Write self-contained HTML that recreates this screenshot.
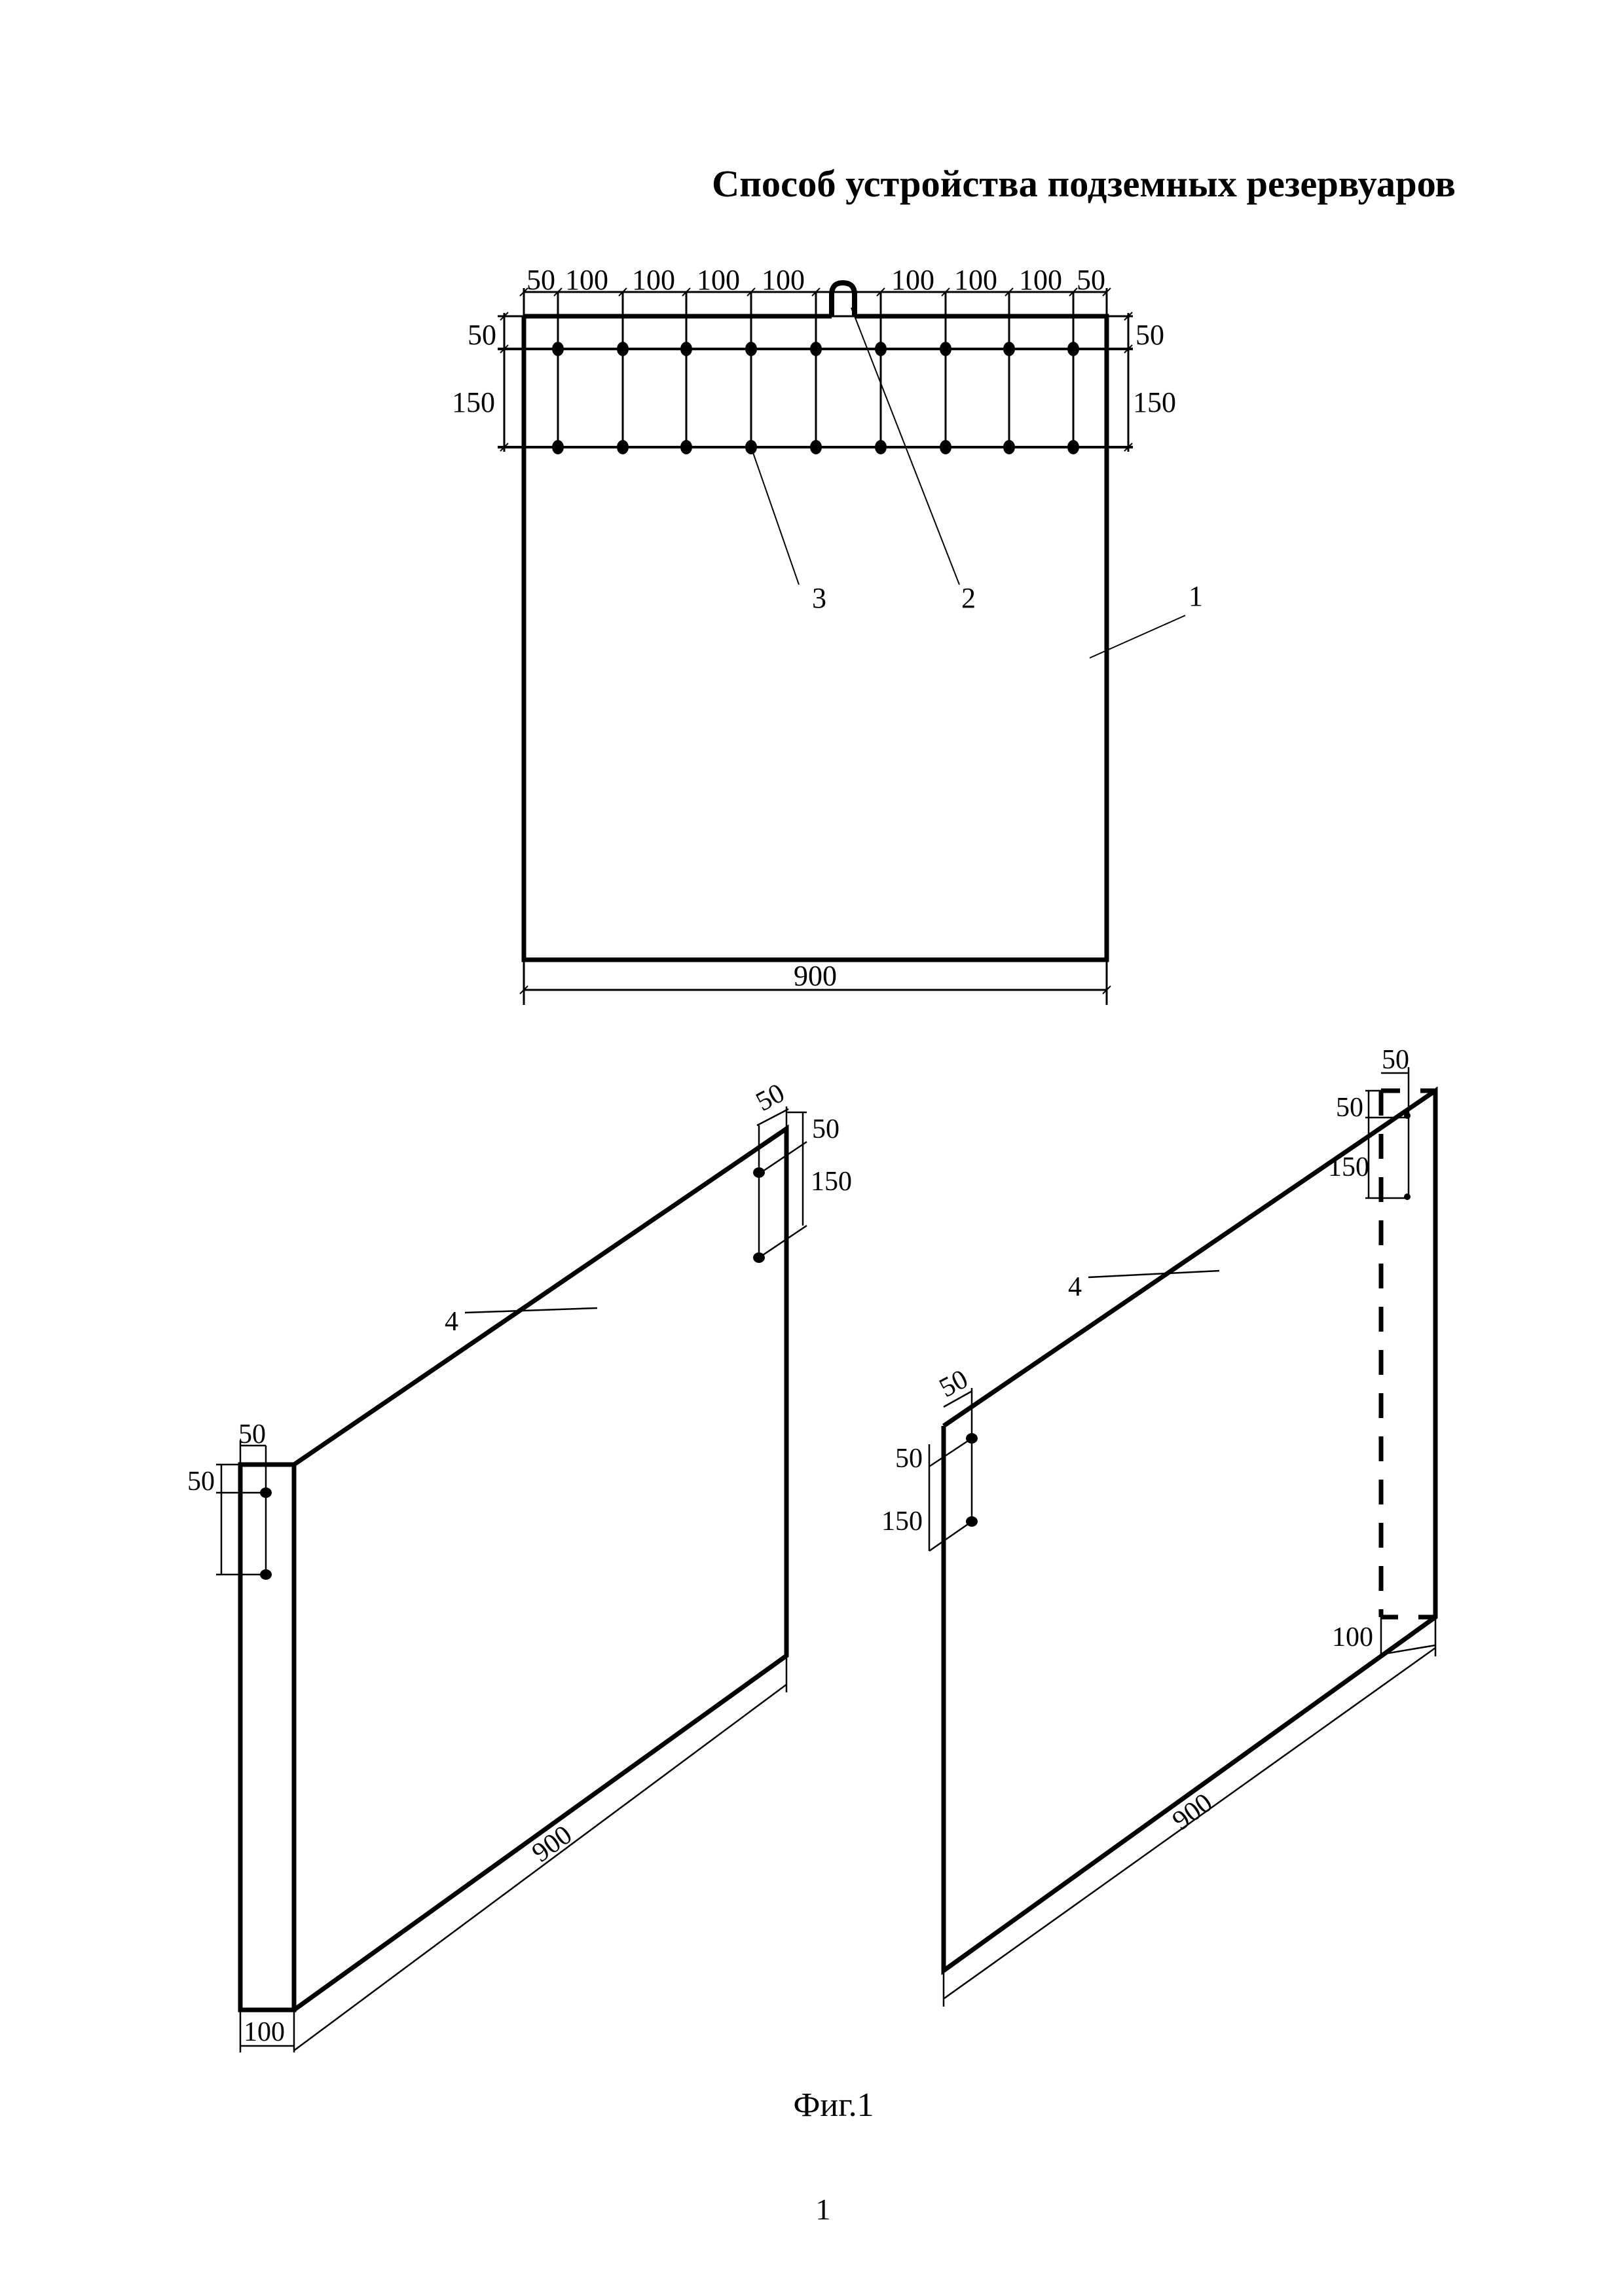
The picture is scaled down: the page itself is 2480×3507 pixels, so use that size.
<!DOCTYPE html>
<html><head><meta charset="utf-8"><style>html,body{margin:0;padding:0;background:#fff}svg{display:block}</style></head>
<body>
<svg width="2480" height="3507" viewBox="0 0 2480 3507" xmlns="http://www.w3.org/2000/svg" font-family="'Liberation Serif', serif" fill="none" stroke="#000">
<text x="1087" y="300" font-size="58" font-weight="bold" fill="#000" stroke="none" textLength="1136" lengthAdjust="spacingAndGlyphs">Способ устройства подземных резервуаров</text>

<!-- Top plate -->
<g stroke-width="7">
<path d="M800 483 V1466 H1690 V483 H1305 M1270 483 H800"/>
<path d="M1270 483 V450 Q1270 432 1287 432 Q1305 432 1305 450 V483" stroke-width="8"/>
</g>
<g stroke-width="3">
<line x1="800" y1="446" x2="1690" y2="446"/>
<line x1="760" y1="483" x2="1730" y2="483"/>
<line x1="760" y1="533" x2="1730" y2="533" stroke-width="4"/>
<line x1="760" y1="683" x2="1730" y2="683" stroke-width="4"/>
<line x1="770" y1="478" x2="770" y2="690"/>
<line x1="1723" y1="478" x2="1723" y2="690"/>
<line x1="800" y1="440" x2="800" y2="483"/>
<line x1="1690" y1="440" x2="1690" y2="483"/>
<line x1="852" y1="446" x2="852" y2="683"/>
<line x1="951" y1="446" x2="951" y2="683"/>
<line x1="1048" y1="446" x2="1048" y2="683"/>
<line x1="1147" y1="446" x2="1147" y2="683"/>
<line x1="1246" y1="446" x2="1246" y2="683"/>
<line x1="1345" y1="446" x2="1345" y2="683"/>
<line x1="1444" y1="446" x2="1444" y2="683"/>
<line x1="1541" y1="446" x2="1541" y2="683"/>
<line x1="1639" y1="446" x2="1639" y2="683"/>
<line x1="800" y1="1466" x2="800" y2="1535"/>
<line x1="1690" y1="1466" x2="1690" y2="1535"/>
<line x1="800" y1="1512" x2="1690" y2="1512"/>
<line x1="1147" y1="683" x2="1220" y2="893" stroke-width="2"/>
<line x1="1300" y1="470" x2="1465" y2="893" stroke-width="2"/>
<line x1="1664" y1="1005" x2="1810" y2="940" stroke-width="2"/>
</g>
<g stroke-width="2">
<path d="M794 452 l12 -12 M846 452 l12 -12 M945 452 l12 -12 M1042 452 l12 -12 M1141 452 l12 -12 M1240 452 l12 -12 M1339 452 l12 -12 M1438 452 l12 -12 M1535 452 l12 -12 M1633 452 l12 -12 M1684 452 l12 -12"/>
<path d="M764 489 l12 -12 M764 539 l12 -12 M764 689 l12 -12 M1717 489 l12 -12 M1717 539 l12 -12 M1717 689 l12 -12 M794 1518 l12 -12 M1684 1518 l12 -12"/>
</g>
<g fill="#000" stroke="none">
<ellipse cx="852" cy="533" rx="9" ry="11"/><ellipse cx="951" cy="533" rx="9" ry="11"/><ellipse cx="1048" cy="533" rx="9" ry="11"/><ellipse cx="1147" cy="533" rx="9" ry="11"/><ellipse cx="1246" cy="533" rx="9" ry="11"/><ellipse cx="1345" cy="533" rx="9" ry="11"/><ellipse cx="1444" cy="533" rx="9" ry="11"/><ellipse cx="1541" cy="533" rx="9" ry="11"/><ellipse cx="1639" cy="533" rx="9" ry="11"/>
<ellipse cx="852" cy="683" rx="9" ry="11"/><ellipse cx="951" cy="683" rx="9" ry="11"/><ellipse cx="1048" cy="683" rx="9" ry="11"/><ellipse cx="1147" cy="683" rx="9" ry="11"/><ellipse cx="1246" cy="683" rx="9" ry="11"/><ellipse cx="1345" cy="683" rx="9" ry="11"/><ellipse cx="1444" cy="683" rx="9" ry="11"/><ellipse cx="1541" cy="683" rx="9" ry="11"/><ellipse cx="1639" cy="683" rx="9" ry="11"/>
</g>
<g fill="#000" stroke="none" font-size="44">
<text x="804" y="442">50</text><text x="863" y="442">100</text><text x="965" y="442">100</text><text x="1064" y="442">100</text><text x="1163" y="442">100</text>
<text x="1361" y="442">100</text><text x="1457" y="442">100</text><text x="1556" y="442">100</text><text x="1644" y="442">50</text>
<text x="714" y="526">50</text><text x="690" y="629">150</text>
<text x="1734" y="526">50</text><text x="1730" y="629">150</text>
<text x="1245" y="1505" text-anchor="middle">900</text>
<text x="1240" y="928">3</text><text x="1468" y="928">2</text><text x="1815" y="925">1</text>
</g>

<!-- Left isometric -->
<g stroke-width="7">
<path d="M367 2237 V3070 H449 V2237 Z"/>
<path d="M449 2237 L1201 1724 V2529 L449 3070"/>
</g>
<g stroke-width="2.5">
<line x1="406" y1="2208" x2="406" y2="2405"/>
<line x1="367" y1="2200" x2="367" y2="2237"/>
<line x1="367" y1="2208" x2="406" y2="2208"/>
<line x1="338" y1="2237" x2="338" y2="2405"/>
<line x1="330" y1="2237" x2="367" y2="2237"/>
<line x1="330" y1="2280" x2="406" y2="2280"/>
<line x1="330" y1="2405" x2="406" y2="2405"/>
<line x1="367" y1="3070" x2="367" y2="3135"/>
<line x1="449" y1="3070" x2="449" y2="3135"/>
<line x1="367" y1="3125" x2="449" y2="3125"/>
<line x1="449" y1="3132" x2="1201" y2="2573"/>
<line x1="1201" y1="2529" x2="1201" y2="2585"/>
<line x1="1159" y1="1719" x2="1159" y2="1921"/>
<line x1="1156" y1="1719" x2="1204" y2="1694"/>
<line x1="1201" y1="1690" x2="1201" y2="1724"/>
<line x1="1226" y1="1699" x2="1226" y2="1872"/>
<line x1="1201" y1="1699" x2="1232" y2="1699"/>
<line x1="1159" y1="1793" x2="1232" y2="1744"/>
<line x1="1159" y1="1921" x2="1232" y2="1872"/>
<line x1="710" y1="2005" x2="912" y2="1998"/>
</g>
<g fill="#000" stroke="none">
<ellipse cx="406" cy="2280" rx="9" ry="8"/><ellipse cx="406" cy="2405" rx="9" ry="8"/>
<ellipse cx="1159" cy="1791" rx="9" ry="8"/><ellipse cx="1159" cy="1921" rx="9" ry="8"/>
</g>
<g fill="#000" stroke="none" font-size="42">
<text x="364" y="2204">50</text>
<text x="286" y="2276">50</text>
<text x="372" y="3117">100</text>
<text x="1240" y="1738">50</text>
<text x="1238" y="1818">150</text>
<text x="1164" y="1698" transform="rotate(-28 1164 1698)">50</text>
<text x="679" y="2032">4</text>
<text x="842" y="2830" text-anchor="middle" transform="rotate(-36 842 2815)">900</text>
</g>

<!-- Right isometric -->
<g stroke-width="7">
<path d="M1441 2178 V3010 L2192 2470 V1666 L1441 2178"/>
<path d="M2109 1666 V2470" stroke-dasharray="38 28"/>
<path d="M2109 1666 H2138 M2169 1666 H2190 M2109 2470 H2135 M2166 2470 H2190"/>
</g>
<g stroke-width="2.5">
<line x1="1484" y1="2120" x2="1484" y2="2324"/>
<line x1="1441" y1="2149" x2="1484" y2="2125"/>
<line x1="1419" y1="2206" x2="1419" y2="2369"/>
<line x1="1419" y1="2240" x2="1484" y2="2197"/>
<line x1="1419" y1="2369" x2="1484" y2="2324"/>
<line x1="1441" y1="3010" x2="1441" y2="3065"/>
<line x1="1441" y1="3053" x2="2192" y2="2517"/>
<line x1="2192" y1="2470" x2="2192" y2="2530"/>
<line x1="2109" y1="2470" x2="2109" y2="2530"/>
<line x1="2109" y1="2527" x2="2192" y2="2513"/>
<line x1="2109" y1="1639" x2="2151" y2="1639"/>
<line x1="2151" y1="1630" x2="2151" y2="1830"/>
<line x1="2090" y1="1666" x2="2090" y2="1830"/>
<line x1="2085" y1="1666" x2="2109" y2="1666"/>
<line x1="2085" y1="1707" x2="2151" y2="1707"/>
<line x1="2085" y1="1830" x2="2151" y2="1830"/>
<line x1="1662" y1="1951" x2="1862" y2="1941"/>
</g>
<g fill="#000" stroke="none">
<ellipse cx="1484" cy="2197" rx="9" ry="8"/><ellipse cx="1484" cy="2324" rx="9" ry="8"/>
<ellipse cx="2149" cy="1704" rx="5" ry="5"/><ellipse cx="2149" cy="1828" rx="5" ry="5"/>
</g>
<g fill="#000" stroke="none" font-size="42">
<text x="2110" y="1632">50</text>
<text x="2040" y="1705">50</text>
<text x="2028" y="1796">150</text>
<text x="2034" y="2514">100</text>
<text x="1367" y="2241">50</text>
<text x="1346" y="2337">150</text>
<text x="1444" y="2135" transform="rotate(-28 1444 2135)">50</text>
<text x="1631" y="1979">4</text>
<text x="1820" y="2781" text-anchor="middle" transform="rotate(-36 1820 2766)">900</text>
</g>

<text x="1273" y="3232" font-size="52" fill="#000" stroke="none" text-anchor="middle">Фиг.1</text>
<text x="1257" y="3390" font-size="46" fill="#000" stroke="none" text-anchor="middle">1</text>
</svg>
</body></html>
